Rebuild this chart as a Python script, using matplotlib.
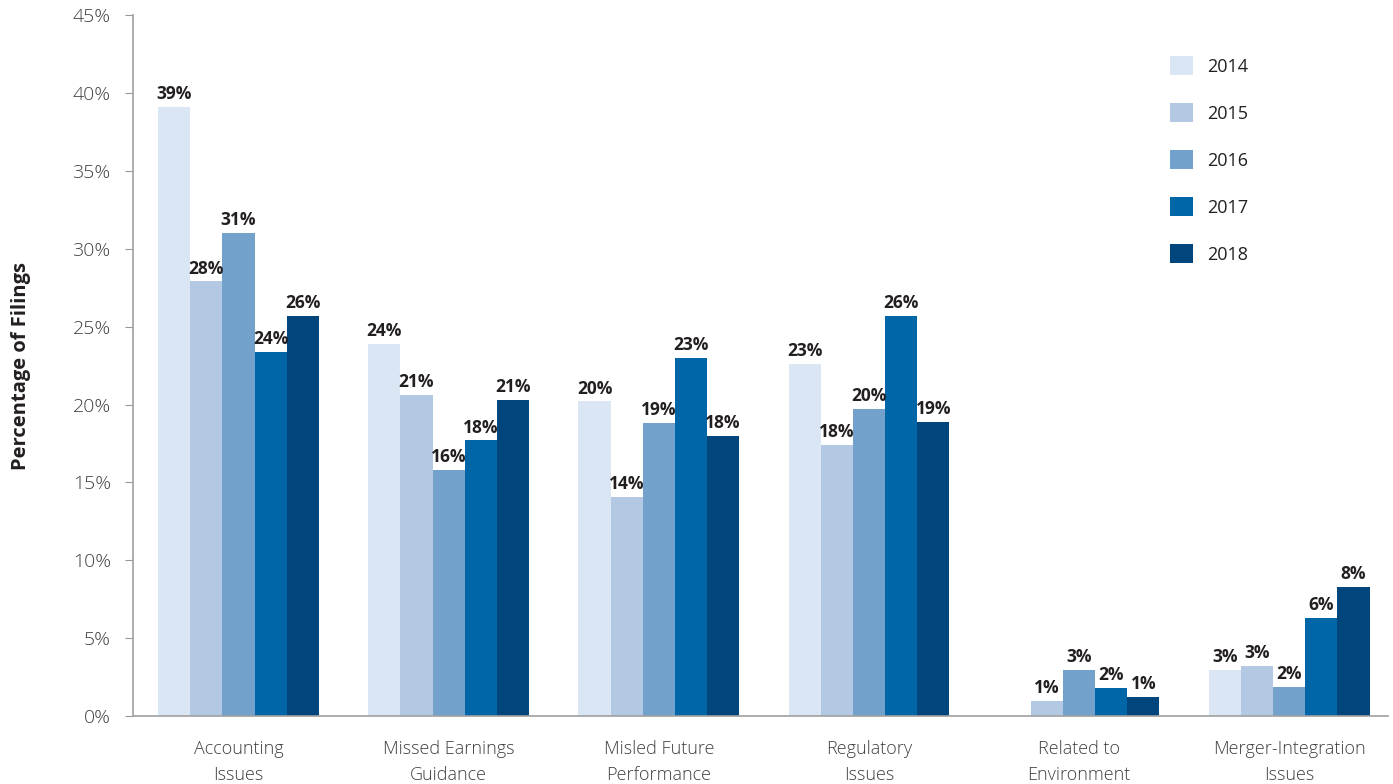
import numpy as np
import matplotlib.pyplot as plt

plt.rcParams['font.family'] = ['Open Sans', 'DejaVu Sans']

# categories and series
categories = ['Accounting\nIssues', 'Missed Earnings\nGuidance', 'Misled Future\nPerformance',
              'Regulatory\nIssues', 'Related to\nEnvironment', 'Merger-Integration\nIssues']
years = ['2014', '2015', '2016', '2017', '2018']

v2014 = [39.1, 23.9, 20.2, 22.6, 0.0, 3.0]
v2015 = [27.9, 20.6, 14.1, 17.4, 1.0, 3.25]
v2016 = [31.0, 15.8, 18.8, 19.7, 3.0, 1.9]
v2017 = [23.4, 17.7, 23.0, 25.7, 1.8, 6.3]
v2018 = [25.7, 20.3, 18.0, 18.9, 1.25, 8.3]

l2014 = ['39%', '24%', '20%', '23%', '', '3%']
l2015 = ['28%', '21%', '14%', '18%', '1%', '3%']
l2016 = ['31%', '16%', '19%', '20%', '3%', '2%']
l2017 = ['24%', '18%', '23%', '26%', '2%', '6%']
l2018 = ['26%', '21%', '18%', '19%', '1%', '8%']

yticks = [0, 5, 10, 15, 20, 25, 30, 35, 40, 45]

colors = ['#dbe6f4', '#b3c8e3', '#72a1cc', '#0066a8', '#00457c']
series = [v2014, v2015, v2016, v2017, v2018]
labels = [l2014, l2015, l2016, l2017, l2018]

fig = plt.figure(figsize=(13.93, 7.84), dpi=100)
ax = fig.add_axes([0.0955, 0.0864, 0.9009, 0.8945])

x = np.arange(len(categories))
w = 0.153
for i, (vals, labs) in enumerate(zip(series, labels)):
    pos = x + (i - 2) * w
    ax.bar(pos, vals, width=w, color=colors[i], label=years[i], linewidth=0)
    for px, v, t in zip(pos, vals, labs):
        if t:
            ax.text(px, v + 0.25, t, ha='center', va='bottom', fontsize=12.5,
                    fontweight='bold', color='#231f20')

ax.set_xlim(-0.502, 5.47)
ax.set_ylim(0, 45)
ax.set_yticks(yticks)
ax.set_yticklabels([f'{t}%' for t in yticks], fontsize=14, color='#404040', fontweight='light')
ax.set_xticks(x)
ax.set_xticklabels(categories, fontsize=13, color='#404040', linespacing=1.55, fontweight='light')
ax.tick_params(axis='x', length=0, pad=17)
ax.tick_params(axis='y', length=6, color='#999999', pad=10)

for s in ['top', 'right']:
    ax.spines[s].set_visible(False)
for s in ['left', 'bottom']:
    ax.spines[s].set_color('#a0a0a0')
    ax.spines[s].set_linewidth(1.2)

ax.set_ylabel('Percentage of Filings', fontsize=14.5, fontweight='bold', color='#231f20', labelpad=30)

leg = ax.legend(loc='upper left', bbox_to_anchor=(0.813, 0.965), frameon=False, fontsize=13,
                handlelength=1.3, handleheight=1.3, labelspacing=1.5, handletextpad=0.8)
for t in leg.get_texts():
    t.set_color('#231f20')

fig.savefig('out.png', dpi=100)
